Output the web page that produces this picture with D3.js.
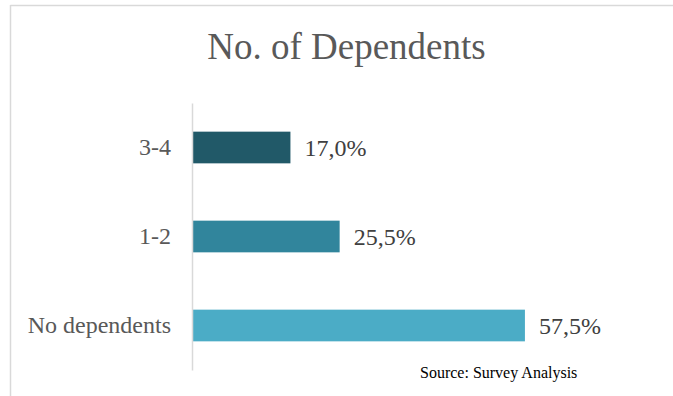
<!DOCTYPE html>
<html>
<head>
<meta charset="utf-8">
<script src="https://cdn.jsdelivr.net/npm/d3@7"></script>
<style>
  html, body { margin: 0; padding: 0; background: #fff; }
  svg { display: block; font-family: "Liberation Serif", "Times New Roman", serif; }
</style>
</head>
<body>
<svg id="chart" width="673" height="396"></svg>
<script>
// Categories, top to bottom
const categories = ["3-4", "1-2", "No dependents"];
// Share of respondents, percent
const shares = [17.0, 25.5, 57.5];
// Printed labels for each bar
const valueLabels = ["17,0%", "25,5%", "57,5%"];
const barColors = ["#215968", "#31859C", "#4BACC6"];
const chartTitle = "No. of Dependents";
const sourceNote = "Source: Survey Analysis";

const svg = d3.select("#chart");
const W = 673, H = 396;

// Chart frame (top and left edges visible)
svg.append("line")
  .attr("x1", 10.5).attr("x2", W).attr("y1", 5.5).attr("y2", 5.5)
  .attr("stroke", "#d9d9d9").attr("stroke-width", 1.5);
svg.append("line")
  .attr("x1", 10.5).attr("x2", 10.5).attr("y1", 5).attr("y2", H)
  .attr("stroke", "#d9d9d9").attr("stroke-width", 1.5);

// Title
svg.append("text")
  .attr("x", 346.5).attr("y", 59)
  .attr("text-anchor", "middle")
  .attr("font-size", 37)
  .attr("fill", "#595959")
  .text(chartTitle);

const x0 = 192;
const x = d3.scaleLinear().domain([0, 70]).range([x0, x0 + 70 * 5.79]);
const y = d3.scaleBand()
  .domain(categories)
  .range([103, 370])
  .paddingInner(0.644)
  .paddingOuter(0.322);

const data = categories.map((c, i) => ({ cat: c, v: shares[i], label: valueLabels[i], color: barColors[i] }));

// Bars
svg.append("g").selectAll("rect")
  .data(data)
  .join("rect")
  .attr("x", x(0))
  .attr("y", d => y(d.cat))
  .attr("width", d => x(d.v) - x(0))
  .attr("height", y.bandwidth())
  .attr("fill", d => d.color);

// Category axis
const yAxis = d3.axisLeft(y).tickSize(0).tickPadding(21);
const gy = svg.append("g").attr("transform", `translate(${x0},0)`).call(yAxis);
gy.select(".domain").attr("stroke", "#d9d9d9").attr("stroke-width", 1.5);
gy.selectAll(".tick text")
  .attr("font-family", "Liberation Serif, Times New Roman, serif")
  .attr("font-size", 24)
  .attr("fill", "#595959");

// Value labels
svg.append("g").selectAll("text")
  .data(data)
  .join("text")
  .attr("x", d => x(d.v) + 14)
  .attr("y", d => y(d.cat) + y.bandwidth() / 2)
  .attr("dy", "0.37em")
  .attr("font-size", 24)
  .attr("fill", "#404040")
  .text(d => d.label);

// Source note
svg.append("text")
  .attr("x", 420).attr("y", 377.5)
  .attr("font-size", 16)
  .attr("fill", "#000")
  .text(sourceNote);
</script>
</body>
</html>
